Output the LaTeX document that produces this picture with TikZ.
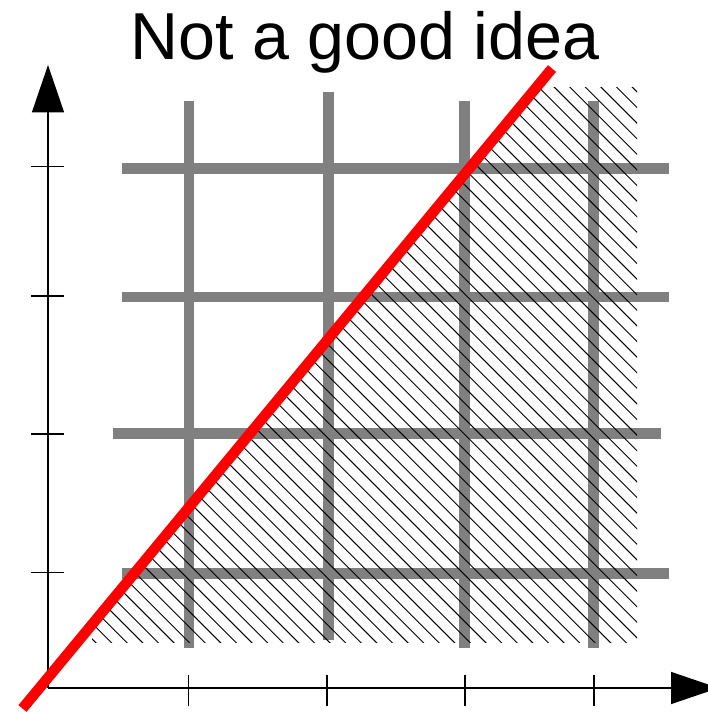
\documentclass[tikz,border=0pt]{standalone}
\usepackage{fontspec}
\setmainfont{Liberation Sans}
\usetikzlibrary{arrows.meta}

\begin{document}
\begin{tikzpicture}[
    axis/.style={line width=0.85pt, -{Triangle[length=0.95cm, width=0.64cm]}},
    tick/.style={line width=0.85pt},
    gridline/.style={line width=0.21cm, gray},
    hatch/.style={line width=0.55pt},
    redline/.style={line width=0.21cm, red}
  ]
  \useasboundingbox (-0.96,-0.48) rectangle (13.18,13.76);

  % Title
  \node[anchor=base, inner sep=0pt, font=\fontsize{37.8}{40}\selectfont] (title) at (6.34,12.57) {Not a good idea};

  % Axes
  \coordinate (O) at (0,0);
  \coordinate (xend) at (13.41,0);
  \coordinate (yend) at (0,12.46);
  \draw[axis] (O) -- (xend);
  \draw[axis] (O) -- (yend);

  % Ticks
  \foreach \x in {2.81,5.58,8.34,10.92}
    \draw[tick] (\x,0.26) -- (\x,-0.36);
  \foreach \y in {2.31,5.08,7.84,10.43}
    \draw[tick] (-0.34,\y) -- (0.31,\y);

  % Grid
  \foreach \x/\ya/\yb in {2.82/0.79/11.74, 5.61/0.95/11.91, 8.33/0.79/11.74, 10.91/0.79/11.74}
    \draw[gridline] (\x,\ya) -- (\x,\yb);
  \foreach \y/\xa/\xb in {2.29/1.47/12.42, 5.09/1.29/12.25, 7.82/1.47/12.42, 10.39/1.47/12.42}
    \draw[gridline] (\xa,\y) -- (\xb,\y);

  % Line
  \coordinate (lstart) at (-0.51,-0.41);
  \coordinate (lend) at (10.08,12.39);

  % Hatched area below the line
  \begin{scope}
    \clip (0.88,0.90) rectangle (11.78,12.00);
    \clip (lstart) -- (lend) -- (13,12.39) -- (13,-0.41) -- cycle;
    \foreach \k in {-12,...,58}
      \draw[hatch] ({5.606+0.312*\k-12.5},12.5) -- ({5.606+0.312*\k+0.5},-0.5);
  \end{scope}

  \draw[redline] (lstart) -- (lend);
\end{tikzpicture}
\end{document}
